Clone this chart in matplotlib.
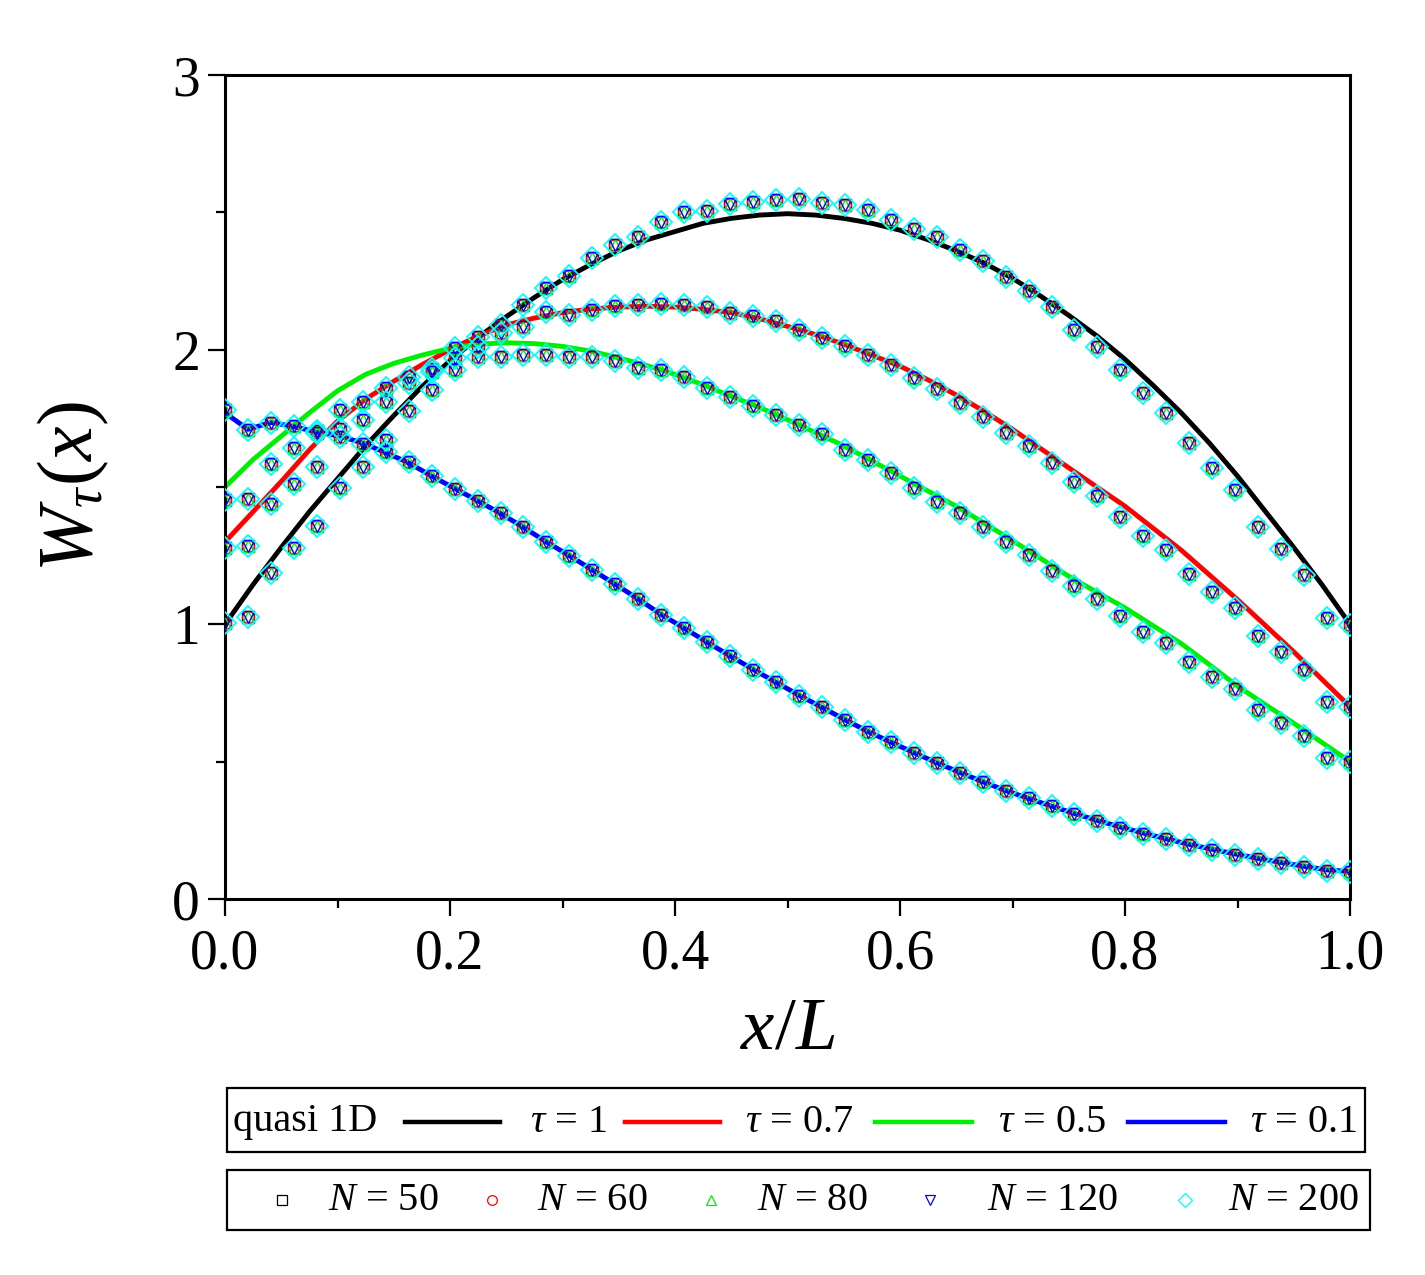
import matplotlib
matplotlib.use("Agg")
import matplotlib.pyplot as plt
import numpy as np
from matplotlib.lines import Line2D
from matplotlib.patches import Rectangle
from matplotlib.ticker import MultipleLocator, FormatStrFormatter

plt.rcParams["font.family"] = ["Liberation Serif", "DejaVu Serif"]
plt.rcParams["mathtext.fontset"] = "custom"
plt.rcParams["mathtext.rm"] = "Liberation Serif"
plt.rcParams["mathtext.it"] = "Liberation Serif:italic"
plt.rcParams["mathtext.bf"] = "Liberation Serif:bold"

# quasi 1D curves, read every 0.025 in x/L
x_line = [0.000, 0.025, 0.050, 0.075, 0.100, 0.125, 0.150, 0.175, 0.200, 0.225,
          0.250, 0.275, 0.300, 0.325, 0.350, 0.375, 0.400, 0.425, 0.450, 0.475,
          0.500, 0.525, 0.550, 0.575, 0.600, 0.625, 0.650, 0.675, 0.700, 0.725,
          0.750, 0.775, 0.800, 0.825, 0.850, 0.875, 0.900, 0.925, 0.950, 0.975,
          1.000]
q1d_t1 = [1.00, 1.145, 1.28, 1.41, 1.53, 1.65, 1.76, 1.865, 1.96, 2.045,
          2.12, 2.19, 2.255, 2.31, 2.36, 2.40, 2.43, 2.46, 2.478, 2.49,
          2.495, 2.49, 2.478, 2.46, 2.435, 2.40, 2.36, 2.315, 2.26, 2.195,
          2.125, 2.05, 1.965, 1.87, 1.77, 1.66, 1.54, 1.41, 1.28, 1.145,
          1.00]
q1d_t07 = [1.30, 1.41, 1.52, 1.635, 1.74, 1.82, 1.885, 1.945, 2.00, 2.05,
           2.09, 2.115, 2.135, 2.148, 2.155, 2.158, 2.155, 2.147, 2.135, 2.113,
           2.085, 2.055, 2.02, 1.98, 1.94, 1.89, 1.835, 1.775, 1.71, 1.64,
           1.57, 1.50, 1.43, 1.35, 1.27, 1.18, 1.09, 0.995, 0.90, 0.80,
           0.70]
q1d_t05 = [1.50, 1.60, 1.685, 1.77, 1.85, 1.91, 1.95, 1.98, 2.005, 2.02,
           2.025, 2.022, 2.012, 1.995, 1.97, 1.942, 1.91, 1.872, 1.83, 1.79,
           1.745, 1.698, 1.65, 1.595, 1.54, 1.485, 1.43, 1.368, 1.305, 1.24,
           1.175, 1.117, 1.06, 0.995, 0.93, 0.853, 0.775, 0.707, 0.64, 0.57,
           0.50]

# tau = 0.1 curve, read on the 50-node grid
x_nodes = np.arange(50) / 49
q1d_t01 = [1.77, 1.71, 1.735, 1.72, 1.70, 1.685, 1.66, 1.625, 1.588, 1.54,
           1.495, 1.45, 1.404, 1.353, 1.30, 1.25, 1.198, 1.146, 1.092, 1.036,
           0.986, 0.935, 0.885, 0.836, 0.789, 0.742, 0.698, 0.653, 0.61, 0.571,
           0.533, 0.496, 0.461, 0.427, 0.395, 0.366, 0.338, 0.311, 0.286, 0.262,
           0.24, 0.219, 0.199, 0.181, 0.164, 0.148, 0.133, 0.119, 0.106, 0.10]

# simulated values (same for every N, they overlap in the figure)
sim_t1 = [1.452, 1.456, 1.584, 1.641, 1.705, 1.78, 1.81, 1.859, 1.90, 1.93,
          2.005, 2.047, 2.09, 2.162, 2.226, 2.268, 2.332, 2.381, 2.411, 2.466,
          2.50, 2.506, 2.53, 2.538, 2.545, 2.548, 2.534, 2.526, 2.507, 2.471,
          2.438, 2.411, 2.363, 2.323, 2.266, 2.215, 2.155, 2.073, 2.011, 1.927,
          1.841, 1.768, 1.659, 1.568, 1.489, 1.355, 1.273, 1.18, 1.022, 0.998]
sim_t07 = [1.277, 1.285, 1.437, 1.511, 1.574, 1.71, 1.744, 1.81, 1.877, 1.92,
           1.968, 2.011, 2.06, 2.084, 2.138, 2.128, 2.144, 2.16, 2.162, 2.165,
           2.162, 2.157, 2.135, 2.123, 2.105, 2.072, 2.044, 2.014, 1.98, 1.944,
           1.897, 1.856, 1.806, 1.756, 1.698, 1.649, 1.586, 1.517, 1.466, 1.392,
           1.322, 1.271, 1.183, 1.119, 1.058, 0.958, 0.899, 0.834, 0.716, 0.70]
sim_t05 = [1.004, 1.028, 1.186, 1.277, 1.358, 1.495, 1.574, 1.67, 1.776, 1.853,
           1.926, 1.974, 1.975, 1.98, 1.98, 1.974, 1.972, 1.958, 1.932, 1.926,
           1.901, 1.861, 1.829, 1.795, 1.762, 1.724, 1.692, 1.635, 1.598, 1.552,
           1.497, 1.446, 1.404, 1.353, 1.298, 1.252, 1.195, 1.14, 1.092, 1.031,
           0.973, 0.931, 0.862, 0.809, 0.764, 0.688, 0.64, 0.593, 0.512, 0.498]
sim_t01 = [1.78, 1.707, 1.733, 1.722, 1.695, 1.683, 1.657, 1.626, 1.59, 1.54,
           1.493, 1.45, 1.404, 1.353, 1.299, 1.249, 1.198, 1.146, 1.091, 1.034,
           0.986, 0.935, 0.885, 0.834, 0.789, 0.74, 0.70, 0.652, 0.609, 0.57,
           0.533, 0.494, 0.46, 0.427, 0.392, 0.367, 0.339, 0.308, 0.285, 0.257,
           0.237, 0.218, 0.197, 0.178, 0.16, 0.145, 0.13, 0.118, 0.103, 0.098]

tau_labels = ["1", "0.7", "0.5", "0.1"]
tau_colors = ["black", "#ff0000", "#00ee00", "#0000ff"]
n_labels = ["50", "60", "80", "120", "200"]
n_colors = ["black", "#ff0000", "#00ee00", "#0000ff", "#00ffff"]
n_markers = ["s", "o", "^", "v", "D"]
n_sizes = [8.0, 8.5, 8.5, 8.5, 11.5]
n_mew = [1.0, 1.0, 1.0, 1.0, 1.3]

W, H = 1425, 1275
fig = plt.figure(figsize=(W / 100, H / 100), dpi=100)
fig.patch.set_facecolor("white")
ax = fig.add_axes([225 / W, 1 - 899 / H, 1125 / W, 824 / H])

ax.plot(x_line, q1d_t1, color=tau_colors[0], lw=3.5, zorder=2)
ax.plot(x_line, q1d_t07, color=tau_colors[1], lw=3.5, zorder=2)
ax.plot(x_line, q1d_t05, color=tau_colors[2], lw=3.5, zorder=2)
ax.plot(x_nodes, q1d_t01, color=tau_colors[3], lw=3.5, zorder=2)

for c, m, ms, mw in zip(n_colors, n_markers, n_sizes, n_mew):
    for branch in (sim_t1, sim_t07, sim_t05, sim_t01):
        ax.plot(x_nodes, branch, ls="none", marker=m, ms=ms, mfc="none",
                mec=c, mew=mw, zorder=3)

ax.set_xlim(0, 1)
ax.set_ylim(0, 3)
ax.xaxis.set_major_locator(MultipleLocator(0.2))
ax.xaxis.set_minor_locator(MultipleLocator(0.1))
ax.yaxis.set_major_locator(MultipleLocator(1))
ax.yaxis.set_minor_locator(MultipleLocator(0.5))
ax.xaxis.set_major_formatter(FormatStrFormatter("%.1f"))
ax.tick_params(which="both", direction="out", top=False, right=False, width=1.6)
ax.tick_params(which="major", length=12, labelsize=40)
ax.tick_params(which="minor", length=6.5)
ax.tick_params(axis="x", which="major", pad=9)
ax.tick_params(axis="y", which="major", pad=6)
for s in ax.spines.values():
    s.set_linewidth(2.2)

ax.set_xlabel(r"$x/L$", fontsize=54, labelpad=12)
ax.set_ylabel(r"$W_\tau(x)$", fontsize=56, labelpad=44)


def fx(px):
    return px / W


def fy(py):
    return 1 - py / H


def box(x0, y0, x1, y1):
    fig.add_artist(Rectangle((fx(x0), fy(y1)), fx(x1) - fx(x0), fy(y0) - fy(y1),
                             transform=fig.transFigure, fill=False,
                             lw=1.6, ec="black"))


# legend 1: quasi 1D lines
box(227, 1088, 1365, 1152)
ly = 1122
fig.text(fx(233), fy(ly), "quasi 1D", fontsize=29, va="center", ha="left")
line_x = [(405, 500), (625, 720), (875, 972), (1128, 1225)]
text_x = [530, 745, 998, 1250]
for (a, b), tx, c, lab in zip(line_x, text_x, tau_colors, tau_labels):
    fig.add_artist(Line2D([fx(a), fx(b)], [fy(ly), fy(ly)], color=c, lw=3.2,
                          transform=fig.transFigure))
    fig.text(fx(tx), fy(ly), r"$\tau$ = " + lab, fontsize=29, va="center", ha="left")

# legend 2: N markers
box(227, 1170, 1370, 1230)
my = 1200
mark_x = [282, 492, 711, 930, 1185]
ntext_x = [328, 537, 757, 987, 1228]
for mx, tx, c, m, lab in zip(mark_x, ntext_x, n_colors, n_markers, n_labels):
    fig.add_artist(Line2D([fx(mx)], [fy(my)], ls="none", marker=m, ms=7,
                          mfc="none", mec=c, mew=0.9, transform=fig.transFigure))
    fig.text(fx(tx), fy(my), r"$N$ = " + lab, fontsize=29, va="center", ha="left")

fig.savefig("out.png", dpi=100, facecolor="white")
